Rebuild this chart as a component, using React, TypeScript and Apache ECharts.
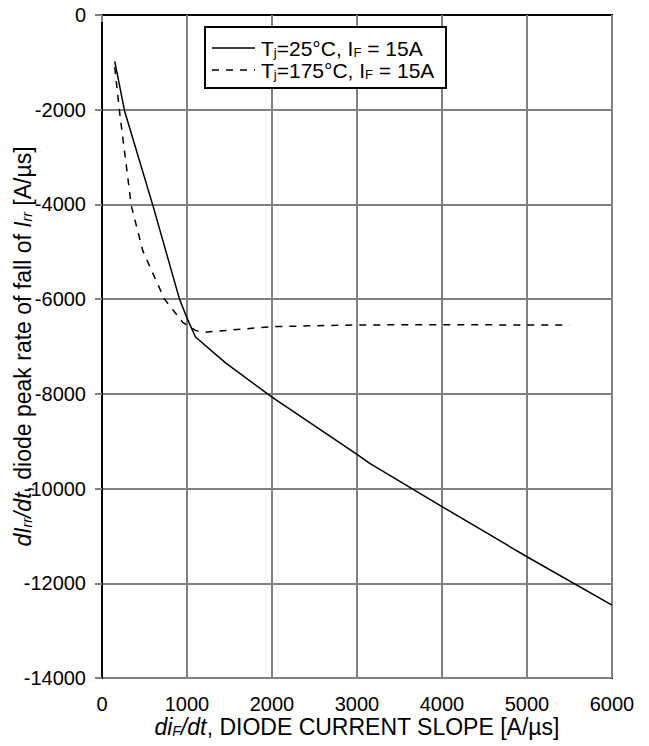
import React, { useEffect, useRef } from "react";
import * as echarts from "echarts";

const xTicks = [0, 1000, 2000, 3000, 4000, 5000, 6000];
const yTicks = [0, -2000, -4000, -6000, -8000, -10000, -12000, -14000];

const seriesNames = ["Tj=25°C, IF = 15A", "Tj=175°C, IF = 15A"];
const legendRich = [
  "{n|T}{s|j}{n|=25°C, I}{s|F}{n| = 15A}",
  "{n|T}{s|j}{n|=175°C, I}{s|F}{n| = 15A}",
];

const solid25: [number, number][] = [
  [150, -980], [265, -2020], [600, -4030], [910, -5990], [1000, -6400],
  [1100, -6800], [1450, -7340], [2000, -8070], [3000, -9280], [3150, -9470],
  [4000, -10380], [5000, -11440], [6000, -12460],
];

const dashed175: [number, number][] = [
  [150, -1100], [205, -2020], [345, -4030], [480, -4980], [735, -6000],
  [950, -6490], [1100, -6660], [1200, -6700], [2000, -6580], [3000, -6545],
  [4000, -6540], [5000, -6545], [5500, -6545],
];

const FONT = "Liberation Sans, Arial, sans-serif";
const TICK_FS = 20;
const TITLE_FS = 23;
const LEG_FS = 21;
const DASH = [7, 7];

function makeRich(fs: number) {
  const sub = Math.round(fs * 0.62);
  return {
    n: { fontSize: fs, fontFamily: FONT, color: "#000" },
    i: { fontSize: fs, fontFamily: FONT, color: "#000", fontStyle: "italic" },
    s: { fontSize: sub, fontFamily: FONT, color: "#000", verticalAlign: "bottom", padding: [7, 0, 0, 0] },
    is: { fontSize: sub, fontFamily: FONT, color: "#000", fontStyle: "italic", verticalAlign: "bottom", padding: [7, 0, 0, 0] },
  };
}

export default function App() {
  const ref = useRef<HTMLDivElement>(null);
  useEffect(() => {
    if (!ref.current) return;
    const chart = echarts.init(ref.current, null, { renderer: "svg" });
    const titleRich = makeRich(TITLE_FS);
    const legRich = makeRich(LEG_FS);
    const LX = 205;
    const LY = 27;
    chart.setOption({
      animation: false,
      backgroundColor: "#fff",
      grid: {
        left: 102, top: 15, right: 37, bottom: 68,
        containLabel: false,
        outerBoundsMode: "none",
        show: true, borderColor: "#000", borderWidth: 2, backgroundColor: "transparent",
      },
      graphic: [
        {
          type: "rect",
          z: 100,
          shape: { x: LX, y: LY, width: 241, height: 61 },
          style: { fill: "#fff", stroke: "#000", lineWidth: 2 },
        },
        {
          type: "line",
          z: 101,
          shape: { x1: LX + 7, y1: LY + 21, x2: LX + 50, y2: LY + 21 },
          style: { stroke: "#000", lineWidth: 1.5 },
        },
        {
          type: "line",
          z: 101,
          shape: { x1: LX + 7, y1: LY + 43, x2: LX + 50, y2: LY + 43 },
          style: { stroke: "#000", lineWidth: 1.5, lineDash: DASH },
        },
        {
          type: "text",
          z: 101,
          x: LX + 56,
          y: LY + 21,
          style: { text: legendRich[0], rich: legRich, verticalAlign: "middle", align: "left" },
        },
        {
          type: "text",
          z: 101,
          x: LX + 56,
          y: LY + 43,
          style: { text: legendRich[1], rich: legRich, verticalAlign: "middle", align: "left" },
        },
      ],
      xAxis: {
        type: "value",
        min: 0, max: 6000, interval: 1000,
        axisLine: { show: true, lineStyle: { color: "#000", width: 2 } },
        axisTick: { show: true, length: 7, lineStyle: { color: "#808080", width: 2 } },
        splitLine: { show: true, lineStyle: { color: "#808080", width: 2 } },
        axisLabel: {
          fontFamily: FONT, fontSize: TICK_FS, color: "#000", margin: 16,
          formatter: (v: number) => (xTicks.includes(v) ? String(v) : ""),
        },
        name: "{i|di}{is|F}{i|/dt}{n|, DIODE CURRENT SLOPE [A/µs]}",
        nameLocation: "middle",
        nameGap: 37,
        nameMoveOverlap: false,
        nameTextStyle: { rich: titleRich },
      },
      yAxis: {
        type: "value",
        min: -14000, max: 0, interval: 2000,
        axisLine: { show: true, lineStyle: { color: "#000", width: 2 } },
        axisTick: { show: true, length: 7, lineStyle: { color: "#808080", width: 2 } },
        splitLine: { show: true, lineStyle: { color: "#808080", width: 2 } },
        axisLabel: {
          fontFamily: FONT, fontSize: TICK_FS, color: "#000", margin: 16,
          formatter: (v: number) => (yTicks.includes(v) ? String(v) : ""),
        },
        name: "{i|dI}{is|rr}{i|/dt}{n|, diode peak rate of fall of }{i|I}{is|rr}{n| [A/µs]}",
        nameLocation: "middle",
        nameRotate: 90,
        nameGap: 68,
        nameMoveOverlap: false,
        nameTextStyle: { rich: titleRich },
      },
      series: [
        {
          name: seriesNames[0],
          type: "line",
          data: solid25,
          showSymbol: false,
          symbol: "none",
          lineStyle: { color: "#000", width: 1.5, type: "solid" },
          itemStyle: { color: "#000" },
        },
        {
          name: seriesNames[1],
          type: "line",
          data: dashed175,
          showSymbol: false,
          symbol: "none",
          lineStyle: { color: "#000", width: 1.5, type: DASH },
          itemStyle: { color: "#000" },
        },
      ],
    });
    return () => chart.dispose();
  }, []);
  return (
    <div
      ref={ref}
      style={{ position: "fixed", left: 0, top: 0, width: 649, height: 746, background: "#fff" }}
    />
  );
}
